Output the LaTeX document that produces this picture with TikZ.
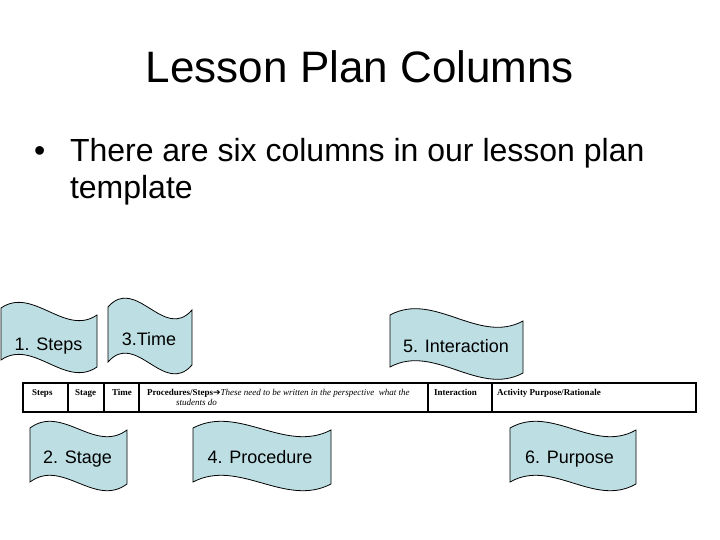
\documentclass[tikz,border=0pt]{standalone}
\usepackage{fontspec}
\setmainfont{Liberation Sans}
\newfontfamily\tabfont{Liberation Serif}
\newfontfamily\symfont{DejaVu Sans}
\definecolor{flagblue}{RGB}{189,223,227}
\tikzset{
  flagstyle/.style={draw=black, line width=0.8pt, fill=flagblue},
  txt/.style={inner sep=0pt, outer sep=0pt},
  flagtext/.style={txt, anchor=base, font=\fontsize{18}{21}\selectfont},
  celltext/.style={txt, anchor=base west, font=\tabfont\fontsize{9}{11}\selectfont},
  tableline/.style={draw=black, line width=1.6pt}
}
\newcommand{\wflag}[6]{%
  \pgfmathsetmacro\wfa{#1+(#2-#1)/3}%
  \pgfmathsetmacro\wfb{#1+2*(#2-#1)/3}%
  \draw[flagstyle] (#1,#3) .. controls ({\wfa},{#3-#6}) and ({\wfb},{#4+#6}) .. (#2,#4)
    -- (#2,{#4+#5}) .. controls ({\wfb},{#4+#5+#6}) and ({\wfa},{#3+#5-#6}) .. (#1,{#3+#5}) -- cycle;}
\begin{document}
\begin{tikzpicture}[x=1pt,y=-1pt]
\useasboundingbox (0,0) rectangle (720,540);
% title
\node[txt, anchor=base, font=\fontsize{44}{53}\selectfont] (title) at (360,83) {Lesson Plan Columns};
% bullet
\node[txt, anchor=base west, font=\fontsize{32}{37}\selectfont] (bul) at (34,162) {•};
\node[txt, anchor=base west, font=\fontsize{32}{37}\selectfont] (b1) at (70,162) {There are six columns in our lesson plan};
\node[txt, anchor=base west, font=\fontsize{32}{37}\selectfont] (b2) at (70,199) {template};
% flags
\wflag{1}{97}{308}{315}{52}{22}
\wflag{108}{192}{307}{310}{55}{32}
\wflag{390}{523}{315}{321}{52}{24}
\wflag{30}{127}{428}{430}{54}{24}
\wflag{193}{331}{428}{430}{54}{24}
\wflag{510}{636}{428}{430}{54}{24}
\node[flagtext] (f1) at (48.5,350) {1. Steps};
\node[flagtext] (f3) at (149,345.5) {3.Time};
\node[flagtext] (f5) at (456,352) {5. Interaction};
\node[flagtext] (f2) at (77.5,463) {2. Stage};
\node[flagtext] (f4) at (260,463) {4. Procedure};
\node[flagtext] (f6) at (569.5,463) {6. Purpose};
% table
\draw[tableline] (23,383) rectangle (696,412);
\foreach \xx in {68,104,139,428,492} \draw[tableline] (\xx,383) -- (\xx,412);
\node[celltext] (c1) at (32,395) {\bfseries Steps};
\node[celltext] (c2) at (75,395) {\bfseries Stage};
\node[celltext] (c3) at (112,395) {\bfseries Time};
\node[celltext] (c4) at (147,395) {\textbf{Procedures/Steps}{\symfont ➔}\textit{These need to be written in the perspective\ \ what the}};
\node[celltext] (c4b) at (176,405.5) {\textit{students do}};
\node[celltext] (c5) at (434,395) {\bfseries Interaction};
\node[celltext] (c6) at (497,395) {\bfseries Activity Purpose/Rationale};
\end{tikzpicture}
\end{document}
